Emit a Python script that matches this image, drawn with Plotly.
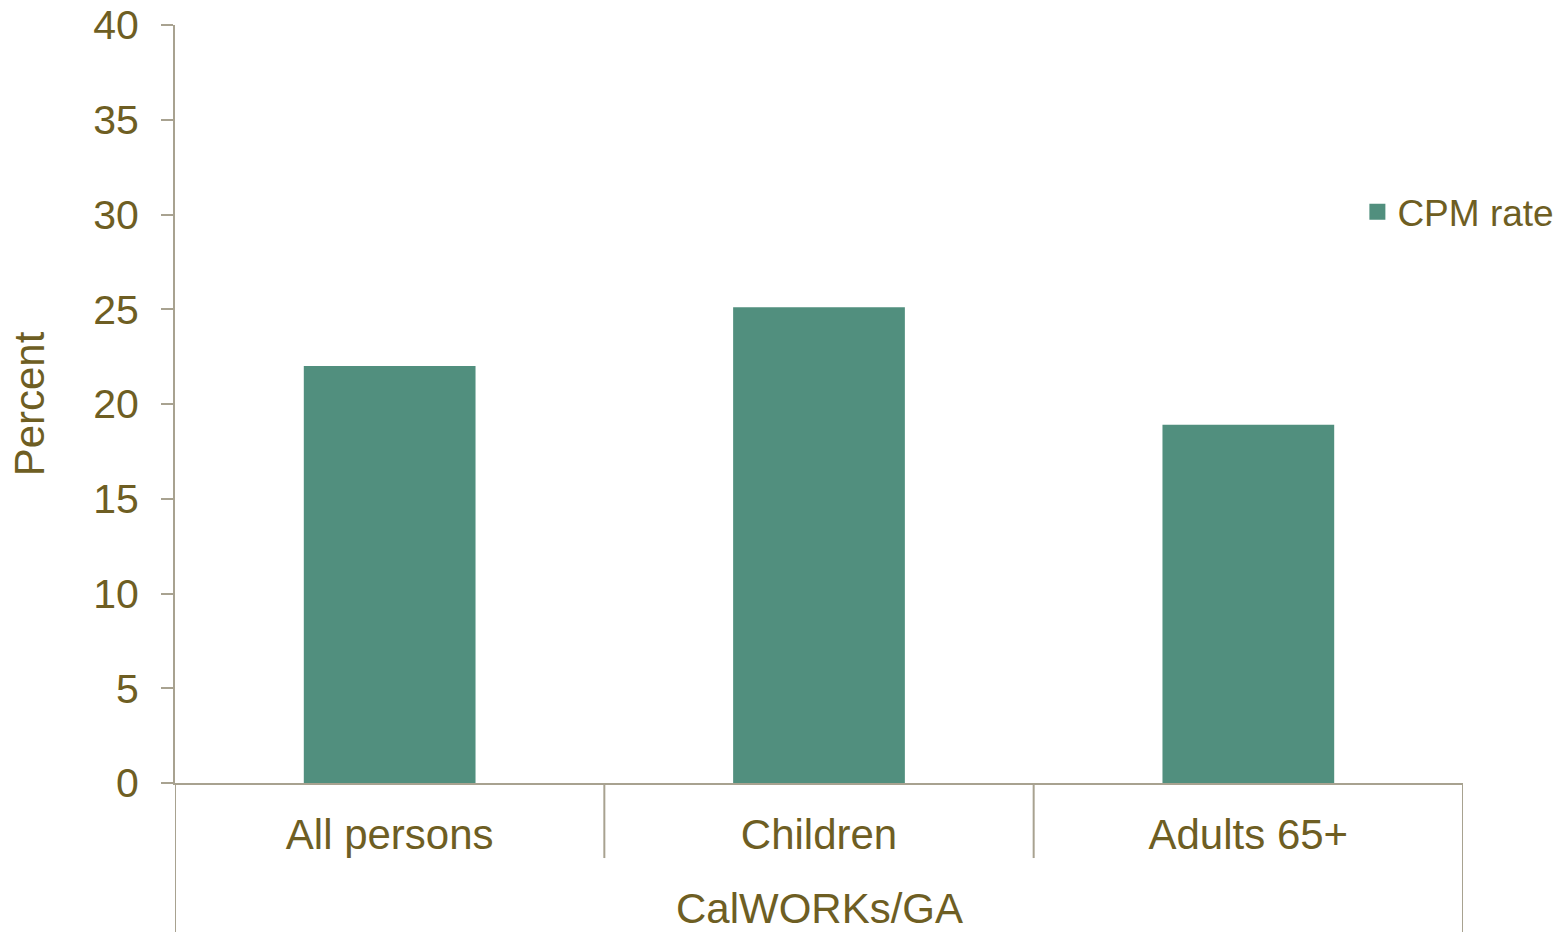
import plotly.graph_objects as go

# CPM poverty rates for CalWORKs/GA recipients
categories = ["All persons", "Children", "Adults 65+"]
group_label = "CalWORKs/GA"
cpm_rate = [22.0, 25.1, 18.9]
y_ticks = [0, 5, 10, 15, 20, 25, 30, 35, 40]

TEXT = "#6E5E23"
AXIS = "#A8A290"
BAR = "#518F7E"
FONT = "Arial, Liberation Sans, sans-serif"

fig = go.Figure()
fig.add_trace(go.Bar(
    x=categories, y=cpm_rate, name="CPM rate", showlegend=False,
    marker=dict(color=BAR, line=dict(width=0)),
))
# Legend entry with a larger square swatch
fig.add_trace(go.Scatter(
    x=[None], y=[None], mode="markers", name="CPM rate",
    marker=dict(symbol="square", size=19, color=BAR),
))

fig.update_layout(
    width=1562, height=932,
    margin=dict(l=175, r=99, t=25, b=149, autoexpand=False),
    paper_bgcolor="white", plot_bgcolor="white",
    font=dict(family=FONT, color=TEXT, size=40),
    bargap=0.6,
    showlegend=True,
    legend=dict(x=0.918, y=0.753, xanchor="left", yanchor="middle",
                font=dict(size=37, color=TEXT, family=FONT),
                bgcolor="rgba(0,0,0,0)", itemwidth=30),
    xaxis=dict(
        type="category", range=[-0.5, 2.5], automargin=False,
        showline=True, linecolor=AXIS, linewidth=2,
        ticks="", showgrid=False, ticklabelstandoff=14,
        tickfont=dict(size=42, color=TEXT, family=FONT),
    ),
    yaxis=dict(
        range=[0, 40], tickvals=y_ticks, automargin=False,
        showline=True, linecolor=AXIS, linewidth=2,
        ticks="outside", ticklen=12, tickcolor=AXIS, tickwidth=2,
        showgrid=False, zeroline=False, ticklabelstandoff=14,
        tickfont=dict(size=41, color=TEXT, family=FONT),
        title=dict(text="Percent", font=dict(size=42, color=TEXT, family=FONT),
                   standoff=35),
    ),
)

# Category dividers below the axis
for xb in [0.5, 1.5]:
    fig.add_shape(type="line", xref="x", yref="paper", x0=xb, x1=xb,
                  y0=0, y1=-0.099, line=dict(color=AXIS, width=2))
for xb in [-0.5, 2.5]:
    fig.add_shape(type="line", xref="x", yref="paper", x0=xb, x1=xb,
                  y0=0, y1=-0.2, line=dict(color=AXIS, width=2))

# Group label
fig.add_annotation(text=group_label, xref="paper", yref="paper",
                   x=0.5, y=-0.165, showarrow=False, yanchor="middle",
                   font=dict(size=42, color=TEXT, family=FONT))

fig.write_html("out.html")
